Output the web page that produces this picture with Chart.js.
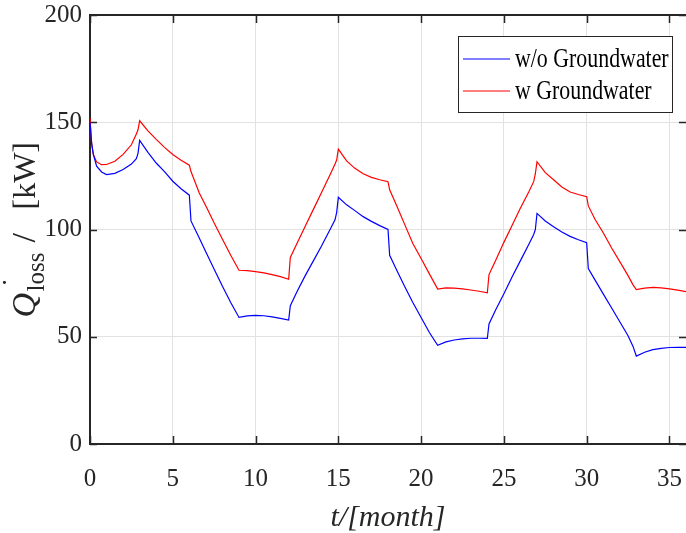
<!DOCTYPE html>
<html>
<head>
<meta charset="utf-8">
<script src="https://cdn.jsdelivr.net/npm/chart.js@4.4.1/dist/chart.umd.min.js"></script>
<style>
  html, body { margin: 0; padding: 0; background: #fff; }
</style>
</head>
<body>
<canvas id="lossChart" width="686" height="533"></canvas>
<script>
// time axis in months, shared by both series
let tMonths = [
    0, 0.1, 0.2, 0.4, 0.7, 1, 1.5, 2, 2.5, 2.8, 2.9, 3,
    3.5, 4, 4.5, 5, 5.5, 6, 6.1, 6.6, 7, 7.5, 8, 8.5, 9,
    9.5, 10, 10.5, 11, 11.5, 12, 12.1, 12.5, 13, 13.5, 14, 14.5, 14.8, 14.9, 15,
    15.5, 16, 16.5, 17, 17.5, 18, 18.1, 18.5, 19, 19.5, 20, 20.5, 21,
    21.5, 22, 22.5, 23, 23.5, 24, 24.1, 24.5, 25, 25.5, 26, 26.5, 26.8, 26.9, 27,
    27.5, 28, 28.5, 29, 29.5, 30, 30.1, 30.5, 31, 31.5, 32, 32.5, 32.8, 33,
    33.5, 34, 34.5, 35, 35.5, 36
];

// heat loss [kW] without groundwater
let qWithout = [
    150, 140, 135, 129.5, 126.8, 125.6, 126.2, 128, 130.5, 133, 135.5, 141.5,
    136, 131, 127, 122.5, 119, 116, 104, 96, 89.5, 81.5, 73.5, 66, 59,
    59.7, 60, 59.8, 59.3, 58.6, 57.8, 64.5, 71, 78.5, 85.5, 92.5, 100, 104.5, 108, 115,
    111.5, 108.8, 106, 103.8, 101.8, 100, 88, 81.5, 73.5, 66, 59, 52, 46,
    47.6, 48.5, 49, 49.3, 49.3, 49.2, 56, 62.5, 70, 78, 85.5, 93, 97.7, 100, 107.5,
    104, 101.3, 98.8, 96.8, 95.2, 93.8, 81.8, 76.5, 70, 63.5, 57, 50.5, 45.5, 41,
    42.8, 44, 44.6, 45, 45.1, 45
];

// heat loss [kW] with groundwater
let qWith = [
    152, 140, 135, 131.5, 130.2, 130.3, 131.8, 135, 139.5, 144.5, 146.5, 150.7,
    146, 142, 138.3, 135, 132.3, 130, 127, 117, 111, 103, 95.5, 88, 81,
    80.8, 80.4, 79.8, 79, 78, 76.8, 87, 93.5, 101.5, 109.5, 117.5, 125.5, 130.5, 132.4, 137.5,
    132, 128.5, 126, 124.3, 123.2, 122.3, 118.5, 111.5, 102.5, 93.5, 86.5, 79.3, 72.2,
    72.8, 72.7, 72.3, 71.8, 71.2, 70.5, 79, 85.5, 94, 102, 110, 117.5, 122.3, 126, 131.6,
    126.5, 123.2, 119.8, 117.5, 116.3, 115.3, 111, 104.8, 98.5, 91.5, 85, 78.5, 74.2, 72,
    72.7, 73, 72.8, 72.3, 71.7, 71
];

let seriesNames = ["w/o Groundwater", "w Groundwater"];
let seriesColors = ["rgb(0, 0, 255)", "rgb(255, 0, 0)"];
let xTitle = "t/[month]";

const serif = '"Liberation Serif", "Times New Roman", serif';
const axisColor = '#262626';

function toPoints(ys) {
    let pts = [];
    for (let i = 0; i < tMonths.length; i++) {
        pts.push({x: tMonths[i], y: ys[i]});
    }
    return pts;
}

// inward tick marks + top border (matlab style box)
const boxTicks = {
    id: 'boxTicks',
    beforeDatasetsDraw(chart) {
        const ctx = chart.ctx;
        const a = chart.chartArea;
        const x = chart.scales.x;
        const y = chart.scales.y;
        ctx.save();
        ctx.strokeStyle = axisColor;
        ctx.lineWidth = 1.5;
        ctx.beginPath();
        x.ticks.forEach(tk => {
            const px = Math.round(x.getPixelForValue(tk.value)) + 0.5;
            ctx.moveTo(px, a.bottom); ctx.lineTo(px, a.bottom - 8);
            ctx.moveTo(px, a.top); ctx.lineTo(px, a.top + 8);
        });
        y.ticks.forEach(tk => {
            const py = Math.round(y.getPixelForValue(tk.value)) + 0.5;
            ctx.moveTo(a.left, py); ctx.lineTo(a.left + 7, py);
            ctx.moveTo(a.right, py); ctx.lineTo(a.right - 7, py);
        });
        ctx.stroke();
        ctx.lineWidth = 2;
        ctx.beginPath();
        ctx.moveTo(a.left, a.top); ctx.lineTo(a.right, a.top);
        ctx.stroke();
        ctx.restore();
    }
};

// y title with dot + subscript, and boxed legend
const labelsAndLegend = {
    id: 'labelsAndLegend',
    afterDraw(chart) {
        const ctx = chart.ctx;
        const a = chart.chartArea;
        ctx.save();
        ctx.fillStyle = axisColor;
        ctx.textBaseline = 'alphabetic';
        ctx.translate(35, (a.top + a.bottom) / 2);
        ctx.rotate(-Math.PI / 2);
        ctx.font = 'italic 34px ' + serif;
        ctx.fillText('Q', -88, 0);
        ctx.font = '30px ' + serif;
        ctx.fillText('\u02D9', -58, -12);
        ctx.font = '25px ' + serif;
        ctx.fillText('loss', -62, 9);
        ctx.font = '34px ' + serif;
        ctx.fillText('/', -13, 0);
        ctx.font = '32px ' + serif;
        ctx.fillText('[kW]', 20, 0);
        ctx.restore();

        // legend box
        const bx = a.right - 228, by = a.top + 21, bw = 214, bh = 76;
        ctx.save();
        ctx.fillStyle = '#fff';
        ctx.fillRect(bx, by, bw, bh);
        ctx.strokeStyle = axisColor;
        ctx.lineWidth = 1;
        ctx.strokeRect(bx + 0.5, by + 0.5, bw, bh);
        chart.data.datasets.forEach((ds, i) => {
            const ry = by + 23 + i * 32;
            ctx.strokeStyle = ds.borderColor;
            ctx.lineWidth = 1.2;
            ctx.beginPath();
            ctx.moveTo(bx + 5, ry); ctx.lineTo(bx + 52, ry);
            ctx.stroke();
            ctx.save();
            ctx.fillStyle = '#000';
            ctx.textBaseline = 'middle';
            ctx.font = '27px ' + serif;
            ctx.translate(bx + 57, ry + 1);
            ctx.scale(0.81, 1);
            ctx.fillText(ds.label, 0, 0);
            ctx.restore();
        });
        ctx.restore();
    }
};

let data = {
    datasets: [
        {
            label: seriesNames[0],
            data: toPoints(qWithout),
            borderColor: seriesColors[0],
            backgroundColor: seriesColors[0],
            borderWidth: 1.2,
            pointRadius: 0,
            tension: 0
        },
        {
            label: seriesNames[1],
            data: toPoints(qWith),
            borderColor: seriesColors[1],
            backgroundColor: seriesColors[1],
            borderWidth: 1.2,
            pointRadius: 0,
            tension: 0
        }
    ]
};

let config = {
    type: 'line',
    data: data,
    options: {
        responsive: false,
        animation: false,
        layout: {autoPadding: false, padding: {top: 15, left: 0, right: 0, bottom: 0}},
        plugins: {
            legend: {display: false},
            tooltip: {enabled: false}
        },
        scales: {
            x: {
                type: 'linear',
                min: 0,
                max: 36,
                afterFit: s => { s.height = 89; s.paddingRight = 0; s.paddingLeft = 0; },
                ticks: {
                    stepSize: 5,
                    includeBounds: false,
                    padding: 20,
                    maxRotation: 0,
                    color: axisColor,
                    font: {family: serif, size: 25}
                },
                grid: {color: '#e2e2e2', lineWidth: 1, drawTicks: false},
                border: {color: axisColor, width: 2},
                title: {
                    display: true,
                    text: xTitle,
                    color: axisColor,
                    font: {family: serif, size: 30, style: 'italic', lineHeight: 1},
                    padding: {top: 0, bottom: 0}
                }
            },
            y: {
                min: 0,
                max: 200,
                afterFit: s => { s.width = 90; s.paddingTop = 0; s.paddingBottom = 0; },
                ticks: {
                    stepSize: 50,
                    padding: 8,
                    color: axisColor,
                    font: {family: serif, size: 25}
                },
                grid: {color: '#e2e2e2', lineWidth: 1, drawTicks: false},
                border: {color: axisColor, width: 2}
            }
        }
    },
    plugins: [boxTicks, labelsAndLegend]
};

let lossChart = new Chart(document.getElementById('lossChart'), config);
</script>
</body>
</html>
